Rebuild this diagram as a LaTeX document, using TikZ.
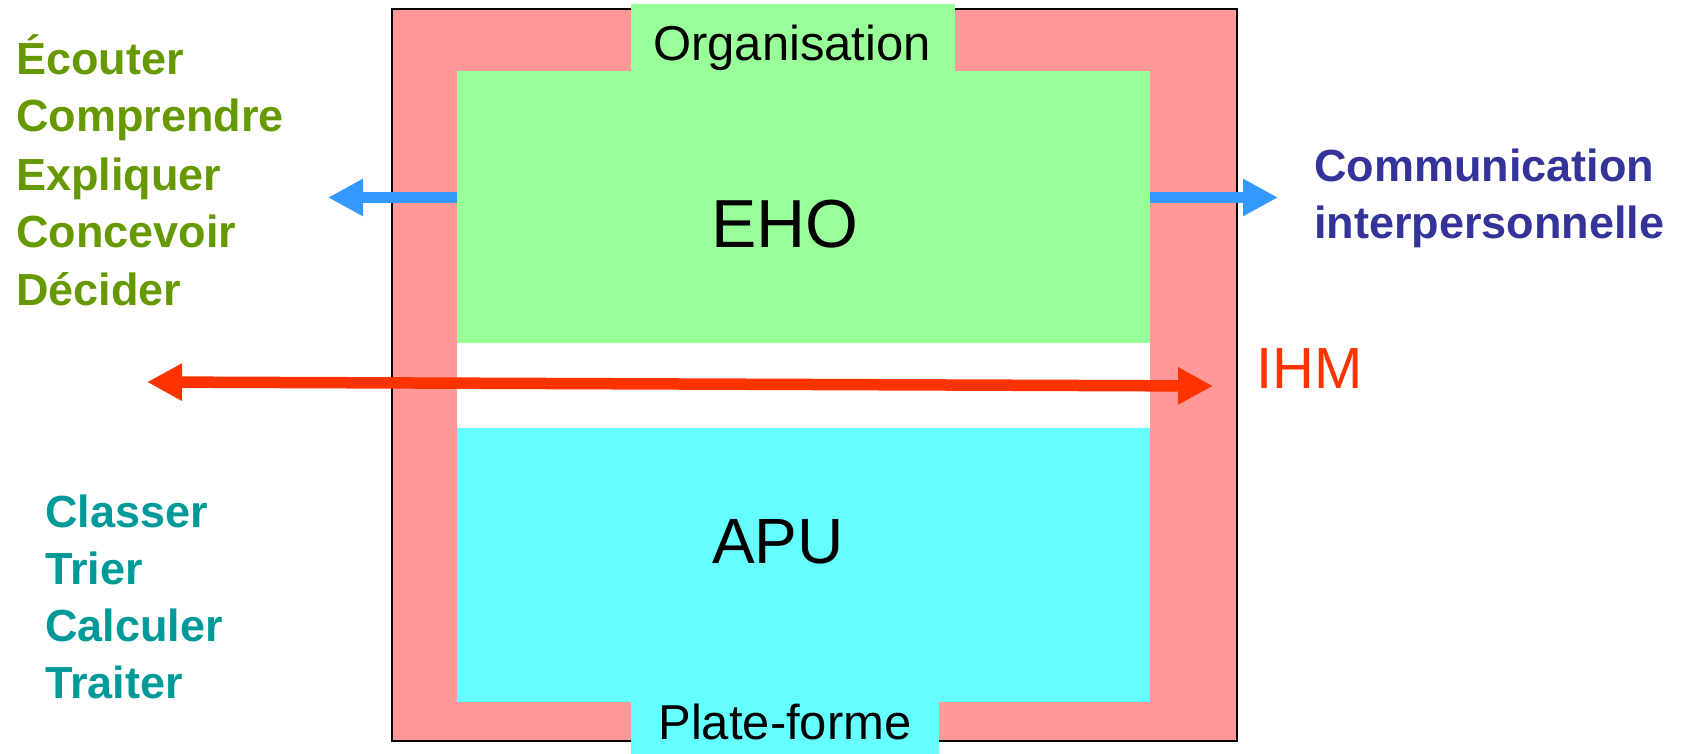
\documentclass[tikz,border=0pt]{standalone}
\usepackage{fontspec}
\setmainfont{Liberation Sans}
\usetikzlibrary{arrows.meta}

\definecolor{boxpink}{HTML}{FF9999}
\definecolor{boxgreen}{HTML}{99FF99}
\definecolor{boxcyan}{HTML}{66FFFF}
\definecolor{arrowblue}{HTML}{3399FF}
\definecolor{arrowred}{HTML}{FF3300}
\definecolor{txtolive}{HTML}{669900}
\definecolor{txtteal}{HTML}{009999}
\definecolor{txtnavy}{HTML}{333399}

\tikzset{
  area/.style={draw=none, inner sep=0, outer sep=0, anchor=north west},
  tablabel/.style={inner sep=0, anchor=base, font=\fontsize{49}{58}\selectfont},
  biglabel/.style={inner sep=0, anchor=base, font=\fontsize{68}{80}\selectfont},
  sidelist/.style={inner sep=0, anchor=base west, font=\bfseries\fontsize{45}{57}\selectfont},
  bluearrow/.style={draw=arrowblue, line width=11.5pt,
    -{Triangle[length=35pt,width=35pt]}},
  redarrow/.style={draw=arrowred, line width=11.5pt,
    {Triangle[length=35pt,width=35pt]}-{Triangle[length=35pt,width=35pt]}},
}

\begin{document}
\begin{tikzpicture}[x=1pt, y=-1pt]
  \useasboundingbox (0,0) rectangle (1685,754);

  % outer frame
  \node[area, fill=boxpink, draw=black, line width=2pt,
        minimum width=845pt, minimum height=732pt] (frame) at (392,9) {};

  % tabs
  \node[area, fill=boxgreen, minimum width=324pt, minimum height=68pt] (orgtab) at (631,4) {};
  \node[area, fill=boxcyan, minimum width=308pt, minimum height=53pt] (plattab) at (631,701) {};

  % inner layers
  \node[area, fill=boxgreen, minimum width=693pt, minimum height=273pt] (ehobox) at (457,71) {};
  \node[area, fill=white, minimum width=693pt, minimum height=85pt] (gap) at (457,343) {};
  \node[area, fill=boxcyan, minimum width=693pt, minimum height=274pt] (apubox) at (457,428) {};

  % labels inside
  \node[tablabel] (org) at (792,61) {Organisation};
  \node[tablabel] (plat) at (785,739) {Plate-forme};
  \node[biglabel] (eho) at (785,247) {EHO};
  \node[biglabel, font=\fontsize{64}{76}\selectfont] (apu) at (778,563) {APU};

  % arrows
  \coordinate (bl) at (328,197.5);
  \coordinate (br) at (1278,197.5);
  \draw[bluearrow] (ehobox.west |- bl) -- (bl);
  \draw[bluearrow] (ehobox.east |- br) -- (br);

  \coordinate (rl) at (147,382);
  \coordinate (rr) at (1213,386);
  \draw[redarrow] (rl) -- (rr);

  % right-hand labels
  \node[inner sep=0, anchor=base west, text=arrowred, font=\fontsize{58}{68}\selectfont]
    (ihm) at (1256,388) {IHM};
  \node[sidelist, text=txtnavy] (com1) at (1314,182) {Communication};
  \node[sidelist, text=txtnavy] (com2) at (1314,238) {interpersonnelle};

  % left-hand lists
  \node[sidelist, text=txtolive] (l1) at (16,75)  {Écouter};
  \node[sidelist, text=txtolive] (l2) at (16,132) {Comprendre};
  \node[sidelist, text=txtolive] (l3) at (16,190) {Expliquer};
  \node[sidelist, text=txtolive] (l4) at (16,247) {Concevoir};
  \node[sidelist, text=txtolive] (l5) at (16,305) {Décider};

  \node[sidelist, text=txtteal] (m1) at (45,527) {Classer};
  \node[sidelist, text=txtteal] (m2) at (45,584) {Trier};
  \node[sidelist, text=txtteal] (m3) at (45,641) {Calculer};
  \node[sidelist, text=txtteal] (m4) at (45,698) {Traiter};
\end{tikzpicture}
\end{document}
